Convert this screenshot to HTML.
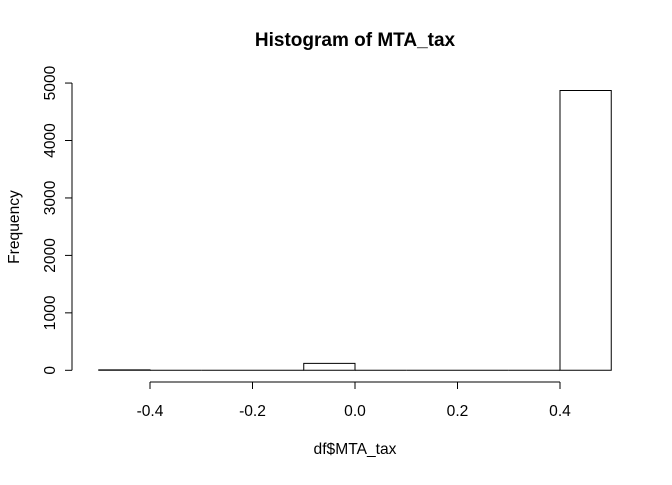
<!DOCTYPE html>
<html><head><meta charset="utf-8"><style>
body{margin:0;background:#fff}
svg text{font-family:"Liberation Sans",sans-serif;fill:#000}
</style></head><body>
<svg width="672" height="480" xmlns="http://www.w3.org/2000/svg">
<text x="355" y="46" font-size="19" font-weight="bold" text-anchor="middle">Histogram of MTA_tax</text>
<text x="355" y="454" font-size="15.6" text-anchor="middle">df$MTA_tax</text>
<text transform="translate(19,227) rotate(-90)" font-size="15.6" text-anchor="middle">Frequency</text>
<g id="bars"></g><g id="xaxis"></g><g id="yaxis"></g>
</svg>
<script>
const binEdges=[-0.5,-0.4,-0.3,-0.2,-0.1,0.0,0.1,0.2,0.3,0.4,0.5];
const counts=[8,0,0,0,120,0,0,0,0,4870];
const xTicks=[-0.4,-0.2,0.0,0.2,0.4];
const xTickLabels=["-0.4","-0.2","0.0","0.2","0.4"];
const yTicks=[0,1000,2000,3000,4000,5000];
const yTickLabels=["0","1000","2000","3000","4000","5000"];
const X=v=>355+v*512.5, Y=v=>370.3-v*0.05745;
const ns="http://www.w3.org/2000/svg";
function mk(t,a,p){const e=document.createElementNS(ns,t);for(const k in a)e.setAttribute(k,a[k]);p.appendChild(e);return e;}
const bars=document.getElementById('bars');
counts.forEach((c,i)=>{
 const x0=X(binEdges[i]),x1=X(binEdges[i+1]),y=Y(c),b=Y(0);
 const r=mk('path',{d:`M${x0},${b}L${x0},${y}L${x1},${y}L${x1},${b}Z`,fill:'none',stroke:'#000','stroke-width':1},bars);
 
 
});
const xa=document.getElementById('xaxis');
let l=mk('line',{x1:X(xTicks[0]),x2:X(xTicks[xTicks.length-1]),y1:382,y2:382,stroke:'#000'},xa);


xTicks.forEach((v,i)=>{
 mk('line',{x1:X(v),x2:X(v),y1:382,y2:389,stroke:'#000'},xa);
 const t=mk('text',{x:X(v),y:416,'font-size':15.6,'text-anchor':'middle'},xa);t.textContent=xTickLabels[i];
 
 
});
const ya=document.getElementById('yaxis');
l=mk('line',{x1:72,x2:72,y1:Y(yTicks[0]),y2:Y(yTicks[yTicks.length-1]),stroke:'#000'},ya);


yTicks.forEach((v,i)=>{
 mk('line',{x1:65,x2:72,y1:Y(v),y2:Y(v),stroke:'#000'},ya);
 const t=mk('text',{transform:`translate(55,${Y(v)}) rotate(-90)`,'font-size':15.6,'text-anchor':'middle'},ya);t.textContent=yTickLabels[i];
 
 
});
</script>
</body></html>
